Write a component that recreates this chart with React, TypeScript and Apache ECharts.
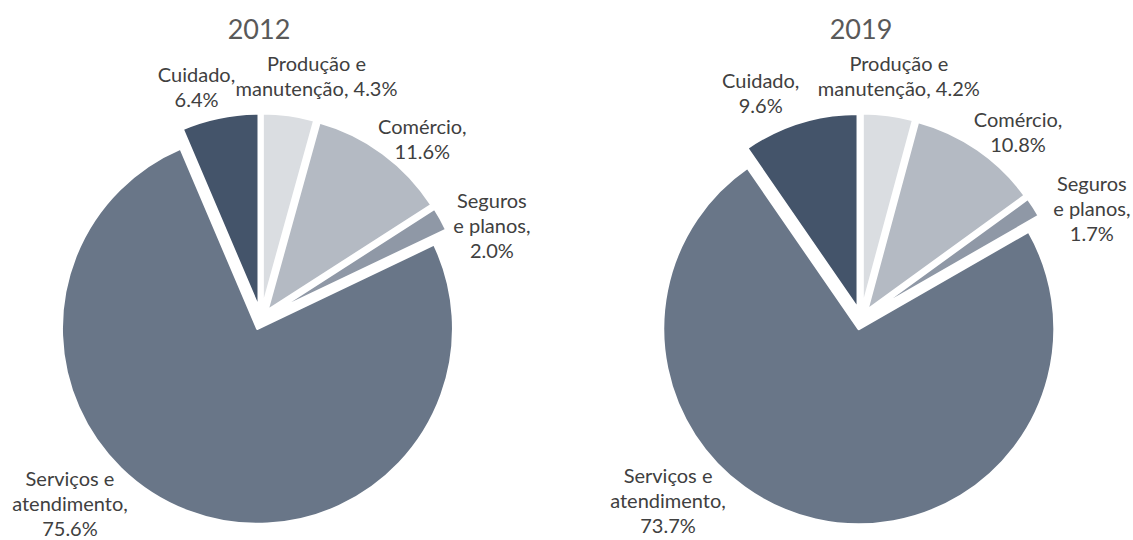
import React, { useEffect, useRef } from "react";
import * as echarts from "echarts";

const categories = ["Produção e manutenção", "Comércio", "Seguros e planos", "Serviços e atendimento", "Cuidado"];
const titles = ["2012", "2019"];
const values2012 = [4.3, 11.6, 2.0, 75.6, 6.4];
const values2019 = [4.2, 10.8, 1.7, 73.7, 9.6];

// label text layout (line breaks) per category
const labelLines: Record<string, [string, string]> = {
  "Produção e manutenção": ["Produção e\nmanutenção,", " "],
  "Comércio": ["Comércio,", "\n"],
  "Seguros e planos": ["Seguros\ne planos,", "\n"],
  "Serviços e atendimento": ["Serviços e\natendimento,", "\n"],
  "Cuidado": ["Cuidado,", "\n"],
};
const colors = ["#DADDE1", "#B4BAC3", "#8F98A6", "#697688", "#44546A"];
const centers: [number, number][] = [[261, 319], [861, 319]];
const titleX = [254, 856];
const labelShift: [number, number][][] = [
  [[-58, -41], [-9, -16], [9, 5], [-56, -7], [20, -33]],
  [[-75, -41], [-8, -19], [16, 0], [-85, -18], [4, -32]],
];

const FONT = "Lato";

export default function App() {
  const ref = useRef<HTMLDivElement>(null);
  useEffect(() => {
    if (!ref.current) return;
    const chart = echarts.init(ref.current, undefined, { renderer: "svg" });
    const sets = [values2012, values2019];
    const series: any[] = [];
    sets.forEach((vals, si) => {
      // the pie itself (exploded slices)
      series.push({
        type: "pie",
        center: centers[si],
        radius: 196,
        startAngle: 90,
        clockwise: true,
        avoidLabelOverlap: false,
        selectedMode: "multiple",
        selectedOffset: 10,
        silent: true,
        data: vals.map((v, i) => ({
          name: categories[i],
          value: v,
          selected: true,
          itemStyle: { color: colors[i] },
        })),
        itemStyle: { borderColor: "#ffffff", borderWidth: 3 },
        select: { itemStyle: { borderColor: "#ffffff", borderWidth: 3 } },
        emphasis: { disabled: true },
        label: { show: false },
        labelLine: { show: false },
      });
      // label carrier
      series.push({
        type: "pie",
        center: centers[si],
        radius: 196,
        startAngle: 90,
        clockwise: true,
        avoidLabelOverlap: false,
        silent: true,
        z: 3,
        data: vals.map((v, i) => ({
          name: categories[i],
          value: v,
          itemStyle: { color: "rgba(0,0,0,0)" },
        })),
        itemStyle: { borderWidth: 0 },
        emphasis: { disabled: true },
        label: {
          show: true,
          position: "outside",
          fontFamily: FONT,
          fontSize: 20,
          lineHeight: 25,
          color: "#404040",
          formatter: (p: any) => {
            const l = labelLines[p.name];
            return l[0] + l[1] + Number(p.value).toFixed(1) + "%";
          },
        },
        labelLine: { show: false, length: 8, length2: 0 },
        labelLayout: (p: any) => {
          const o = labelShift[si][p.dataIndex];
          return {
            x: p.labelRect.x + p.labelRect.width / 2 + o[0],
            y: p.labelRect.y + p.labelRect.height / 2 + o[1],
            align: "center",
            verticalAlign: "middle",
          };
        },
      });
    });
    chart.setOption({
      animation: false,
      backgroundColor: "#ffffff",
      title: titles.map((t, i) => ({
        text: t,
        left: titleX[i],
        top: 10,
        textAlign: "center",
        textStyle: { fontFamily: FONT, fontSize: 27, fontWeight: "normal", color: "#595959" },
      })),
      series,
    } as any);
    return () => chart.dispose();
  }, []);
  return (
    <div
      ref={ref}
      style={{ position: "fixed", left: 0, top: 0, width: 1133, height: 540, background: "#fff" }}
    />
  );
}
